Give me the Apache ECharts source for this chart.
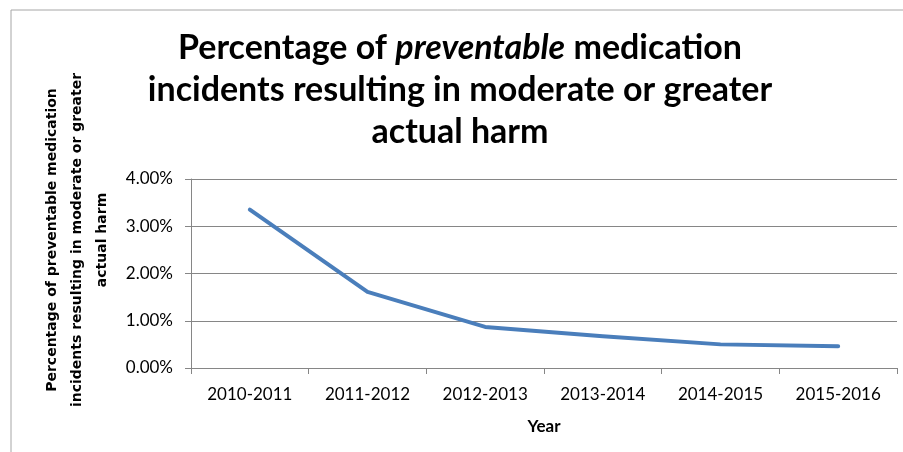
<!DOCTYPE html>
<html lang="en">
<head>
    <meta charset="UTF-8">
    <title>Preventable medication incidents</title>
    <script src="https://cdn.jsdelivr.net/npm/echarts@6/dist/echarts.min.js"></script>
    <style>
        html, body { margin: 0; padding: 0; background: #fff; }
    </style>
</head>
<body>
    <div id="main" style="width:903px;height:452px;"></div>
    <script type="text/javascript">
        // data
        var years = ['2010-2011', '2011-2012', '2012-2013', '2013-2014', '2014-2015', '2015-2016'];
        var harmPct = [3.35, 1.61, 0.87, 0.67, 0.50, 0.46];
        var yTicks = [0, 1, 2, 3, 4];

        var chart = echarts.init(document.getElementById('main'));
        var font = 'Lato, "Open Sans", sans-serif';

        var option = {
            backgroundColor: '#fff',
            animation: false,
            graphic: [{
                type: 'rect',
                shape: { x: 11, y: 10, width: 900, height: 450 },
                style: { fill: 'none', stroke: '#a6a6a6', lineWidth: 1 },
                silent: true
            }, {
                // chart title, middle word in italics
                type: 'text',
                x: 460,
                y: 27,
                silent: true,
                style: {
                    text: '{b|Percentage of }{i|preventable}{b| medication}\n{b|incidents resulting in moderate or greater}\n{b|actual harm}',
                    align: 'center',
                    verticalAlign: 'top',
                    rich: {
                        b: { fontFamily: font, fontWeight: 'bold', fontSize: 34, fill: '#000', lineHeight: 42 },
                        i: { fontFamily: font, fontWeight: 'bold', fontStyle: 'italic', fontSize: 34, fill: '#000', lineHeight: 42 }
                    }
                }
            }, {
                // y axis title
                type: 'text',
                x: 77,
                y: 240,
                rotation: Math.PI / 2,
                silent: true,
                style: {
                    text: 'Percentage of preventable medication\nincidents resulting in moderate or greater\nactual harm',
                    align: 'center',
                    verticalAlign: 'middle',
                    fontFamily: '"DejaVu Sans", sans-serif',
                    fontWeight: 'bold',
                    fontSize: 14,
                    lineHeight: 25,
                    fill: '#000'
                }
            }],
            grid: { left: 191, right: 6, top: 179, bottom: 84 },
            xAxis: {
                type: 'category',
                data: years,
                boundaryGap: true,
                name: 'Year',
                nameLocation: 'middle',
                nameGap: 50,
                nameTextStyle: { fontFamily: font, fontWeight: 'bold', fontSize: 17, color: '#000' },
                axisLine: { lineStyle: { color: '#868686', width: 1 } },
                axisTick: { show: true, alignWithLabel: false, length: 6, lineStyle: { color: '#868686' } },
                axisLabel: { fontFamily: font, fontSize: 17, color: '#000', margin: 18 }
            },
            yAxis: {
                type: 'value',
                min: yTicks[0],
                max: yTicks[yTicks.length - 1],
                interval: 1,
                axisLine: { show: true, lineStyle: { color: '#868686', width: 1 } },
                axisTick: { show: true, length: 6, inside: false, lineStyle: { color: '#868686' } },
                axisLabel: {
                    fontFamily: font, fontSize: 17, color: '#000', margin: 18,
                    formatter: function (v) { return v.toFixed(2) + '%'; }
                },
                splitLine: { lineStyle: { color: '#868686', width: 1 } }
            },
            series: [{
                type: 'line',
                data: harmPct,
                symbol: 'none',
                lineStyle: { color: '#4a7ebb', width: 4, join: 'round', cap: 'round' }
            }]
        };
        chart.setOption(option);
    </script>
</body>
</html>
